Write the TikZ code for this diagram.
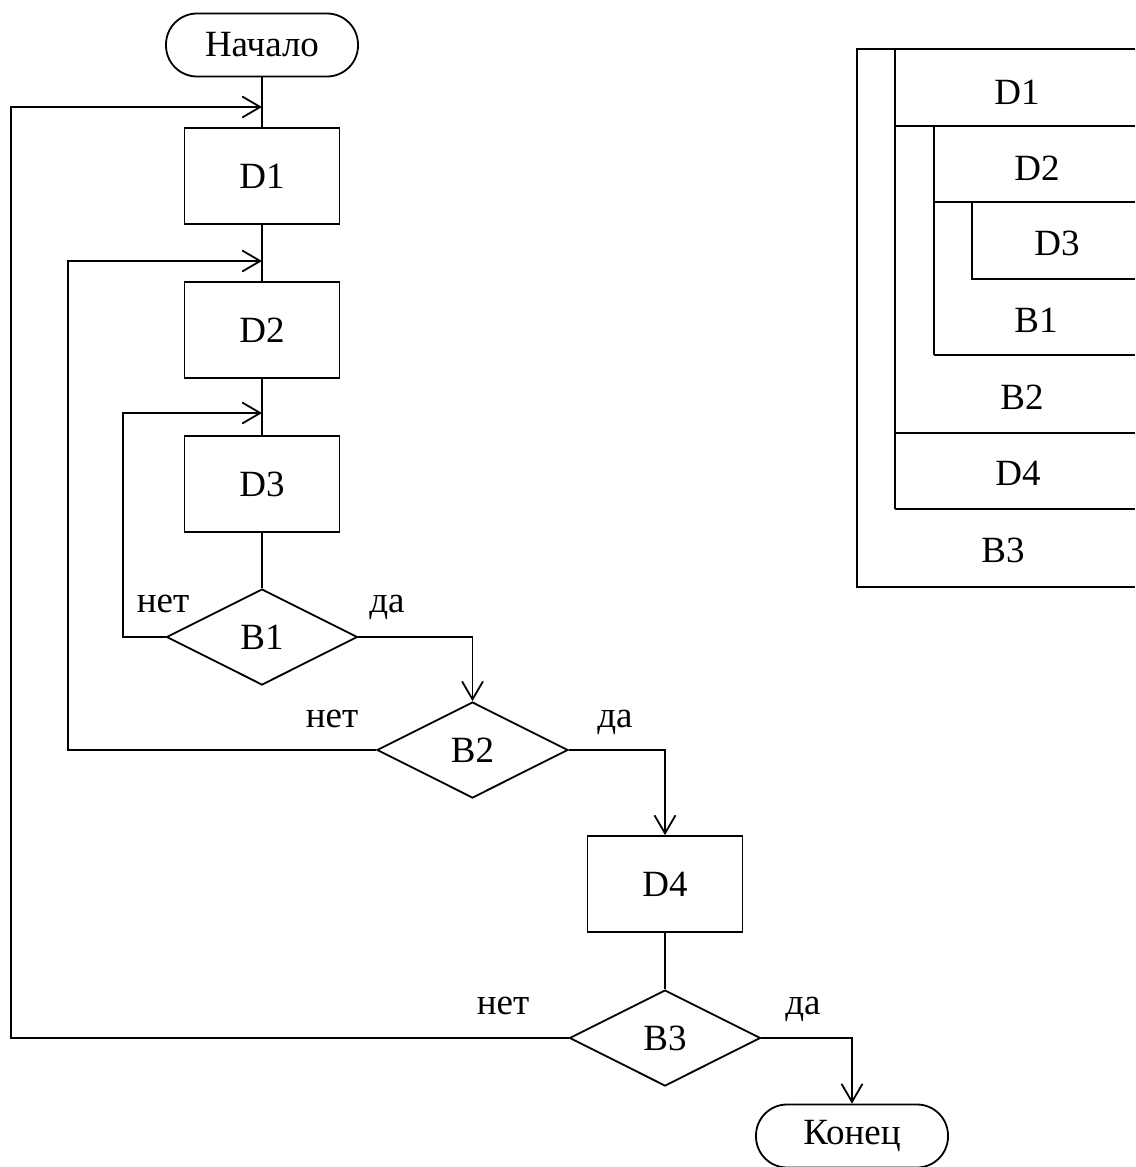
\documentclass[tikz,border=0pt]{standalone}
\usepackage{fontspec}
\setmainfont{Liberation Serif}
\usetikzlibrary{arrows.meta,shapes.geometric}
\begin{document}
\begin{tikzpicture}[x=1pt,y=-1pt,
  every path/.style={line width=1.8pt},
  txt/.style={font=\fontsize{37}{42}\selectfont, inner sep=0pt},
  term/.style={txt, draw, rectangle, rounded corners=31pt, minimum width=192pt, minimum height=63pt},
  proc/.style={txt, draw, rectangle, minimum width=155pt, minimum height=96pt},
  dec/.style={txt, draw, diamond, aspect=2, minimum width=191pt, minimum height=96pt},
  lbl/.style={txt, anchor=base},
  arr/.style={-{Straight Barb[length=18pt,width=21pt]}}]
\useasboundingbox (0,0) rectangle (1135,1167);

% flowchart nodes
\node[term] (start) at (262,45) {Начало};
\node[proc] (d1) at (262,176) {D1};
\node[proc] (d2) at (262,330) {D2};
\node[proc] (d3) at (262,484) {D3};
\node[dec]  (b1) at (262,637) {B1};
\node[dec]  (b2) at (472.5,750) {B2};
\node[proc] (d4) at (665,884) {D4};
\node[dec]  (b3) at (665,1038) {B3};
\node[term] (fin) at (852,1136) {Конец};

\coordinate (j1) at (262,107);
\coordinate (j2) at (262,261);
\coordinate (j3) at (262,413);

% straight connectors
\draw (start.south) -- (d1.north);
\draw (d1.south) -- (d2.north);
\draw (d2.south) -- (d3.north);
\draw (d3.south) -- (b1.north);
\draw (d4.south) -- (b3.north);

% branches
\draw[arr] (b1.east) -| (b2.north);
\draw[arr] (b2.east) -| (d4.north);
\draw[arr] (b3.east) -| (fin.north);
\draw[arr] (b1.west) -- ++(-43,0) |- (j3);
\draw[arr] (b2.west) -- ++(-308,0) |- (j2);
\draw[arr] (b3.west) -- ++(-558,0) |- (j1);

% labels
\node[lbl] (n1) at (163,612) {нет};
\node[lbl] (y1) at (387,612) {да};
\node[lbl] (n2) at (332,727) {нет};
\node[lbl] (y2) at (615,727) {да};
\node[lbl] (n3) at (503,1014) {нет};
\node[lbl] (y3) at (803,1014) {да};

% structure diagram on the right
\draw (1135,49) -- (857,49) -- (857,587) -- (1135,587);
\draw (895,49) -- (895,509);
\draw (895,126) -- (1135,126);
\draw (934,126) -- (934,355);
\draw (934,202) -- (1135,202);
\draw (972,202) -- (972,279) -- (1135,279);
\draw (934,355) -- (1135,355);
\draw (895,433) -- (1135,433);
\draw (895,509) -- (1135,509);

\node[txt] (sd1) at (1017,92) {D1};
\node[txt] (sd2) at (1037,168) {D2};
\node[txt] (sd3) at (1057,243) {D3};
\node[txt] (sb1) at (1036,320) {B1};
\node[txt] (sb2) at (1022,397) {B2};
\node[txt] (sd4) at (1018,473) {D4};
\node[txt] (sb3) at (1003,550) {B3};
\end{tikzpicture}
\end{document}
